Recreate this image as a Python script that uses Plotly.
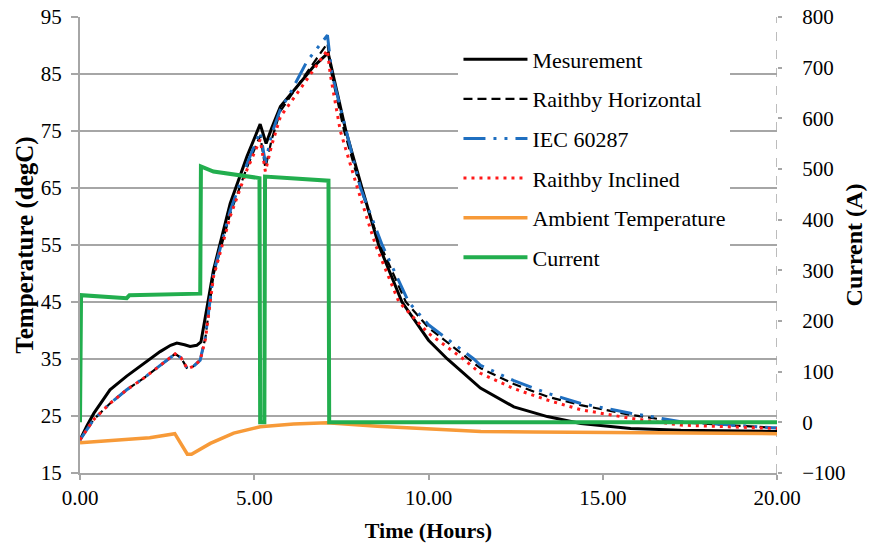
import plotly.graph_objects as go

# ---- Measured conductor temperature (degC) ----
meas_t = [0.0, 0.2, 0.4, 0.86, 1.34, 1.82, 2.3, 2.6, 2.78, 3.0, 3.16, 3.35, 3.47, 3.6, 3.83, 4.31,
          4.79, 5.17, 5.34, 5.5, 5.75, 6.23, 6.7, 7.12, 7.26, 7.63, 8.09, 8.57, 9.24, 10.0,
          10.54, 11.49, 12.45, 13.41, 14.37, 15.8, 17.24, 20.0]
meas_T = [20.8, 23.3, 25.5, 29.6, 32.0, 34.2, 36.3, 37.4, 37.8, 37.5, 37.2, 37.4, 38.0, 42.5, 50.6, 62.3,
          70.5, 76.2, 72.8, 75.5, 79.3, 82.8, 86.3, 88.7, 85.0, 75.0, 65.0, 55.0, 45.0, 38.3,
          35.0, 29.9, 26.6, 24.9, 23.7, 22.8, 22.5, 22.3]

# ---- Raithby horizontal model ----
rh_t = [0.0, 0.38, 0.86, 1.34, 1.82, 2.3, 2.73, 2.9, 3.08, 3.25, 3.45, 3.6, 3.83, 4.31, 4.79, 5.17,
        5.32, 5.5, 5.75, 6.23, 6.7, 7.1, 7.22, 7.58, 8.05, 8.62, 9.35, 10.0, 11.15, 11.49, 12.45,
        13.41, 14.37, 15.8, 17.24, 20.0]
rh_T = [20.8, 24.3, 27.2, 29.6, 31.6, 33.9, 35.9, 35.2, 33.3, 33.7, 34.8, 38.8, 49.8, 60.5, 68.6, 74.2,
        68.5, 73.5, 78.5, 82.8, 87.0, 90.4, 85.0, 75.0, 65.0, 55.0, 45.0, 40.5, 35.0, 33.4, 30.6,
        28.4, 26.9, 25.2, 23.9, 22.9]

# ---- IEC 60287 model ----
iec_t = [0.0, 0.38, 0.86, 1.34, 1.82, 2.3, 2.73, 2.9, 3.08, 3.25, 3.45, 3.6, 3.83, 4.31, 4.79, 5.17,
         5.32, 5.5, 5.75, 6.03, 6.51, 7.1, 7.23, 7.64, 8.05, 8.67, 9.43, 10.0, 11.3, 11.49, 12.45,
         13.41, 14.37, 15.8, 17.24, 20.0]
iec_T = [20.8, 24.3, 27.2, 29.6, 31.6, 33.9, 35.9, 35.2, 33.3, 33.7, 34.8, 39.0, 50.0, 61.0, 69.2, 74.9,
         69.4, 74.5, 78.8, 81.6, 87.2, 91.8, 85.0, 75.0, 65.0, 55.0, 45.0, 41.0, 35.0, 33.9, 31.2,
         29.0, 27.2, 25.5, 24.0, 22.9]

# ---- Raithby inclined model ----
ri_t = [0.0, 0.38, 0.86, 1.34, 1.82, 2.3, 2.73, 2.9, 3.08, 3.25, 3.45, 3.6, 3.83, 4.31, 4.79, 5.17,
        5.32, 5.5, 5.75, 6.23, 6.7, 7.1, 7.18, 7.47, 7.96, 8.48, 9.15, 10.0, 11.0, 11.49, 12.45,
        13.41, 14.37, 15.8, 17.24, 20.0]
ri_T = [20.8, 24.3, 27.2, 29.6, 31.6, 33.9, 35.9, 35.2, 33.3, 33.7, 34.8, 38.5, 49.4, 60.0, 68.2, 73.5,
        67.9, 72.5, 77.5, 81.6, 85.7, 89.2, 85.0, 75.0, 65.0, 55.0, 45.0, 39.5, 35.0, 32.5, 29.8,
        27.8, 26.1, 24.6, 23.4, 22.8]

# ---- Ambient temperature ----
amb_t = [0.0, 0.5, 1.34, 2.0, 2.72, 2.9, 3.08, 3.2, 3.4, 3.74, 4.41, 5.17, 6.13, 7.09, 8.53, 9.96,
         11.5, 13.0, 15.0, 17.0, 20.0]
amb_T = [20.3, 20.5, 20.8, 21.2, 21.9, 20.2, 18.3, 18.3, 19.0, 20.2, 22.0, 23.1, 23.6, 23.8, 23.2, 22.7,
         22.3, 22.2, 22.1, 22.0, 21.9]

# ---- Load current (A) ----
cur_t = [0.0, 0.03, 1.34, 1.42, 3.45, 3.47, 3.83, 4.31, 4.79, 5.15, 5.17, 5.29, 5.31, 6.23, 7.13,
         7.15, 20.0]
cur_I = [0.0, 251, 245, 251, 254, 505, 495, 490, 485, 482, 0, 0, 485, 480, 477, 0, 0]

GRAY = "#A6A6A6"
FONT = "Liberation Serif, Times New Roman, serif"

fig = go.Figure()
fig.add_trace(go.Scatter(x=meas_t, y=meas_T, name="Mesurement", mode="lines",
                         line=dict(color="#000000", width=3), legendgroup="g1"))
fig.add_trace(go.Scatter(x=rh_t, y=rh_T, name="Raithby Horizontal", mode="lines",
                         line=dict(color="#000000", width=2.2, dash="9px,5px"), legendgroup="g2"))
fig.add_trace(go.Scatter(x=iec_t, y=iec_T, name="IEC 60287", mode="lines",
                         line=dict(color="#1F6FC0", width=3, dash="22px,8px,3px,8px,3px,8px"),
                         legendgroup="g3"))
fig.add_trace(go.Scatter(x=ri_t, y=ri_T, name="Raithby Inclined", mode="lines",
                         line=dict(color="#FF1A1A", width=3, dash="3px,5px"), legendgroup="g4"))
fig.add_trace(go.Scatter(x=amb_t, y=amb_T, name="Ambient Temperature", mode="lines",
                         line=dict(color="#F79A38", width=3.5), legendgroup="g5"))
fig.add_trace(go.Scatter(x=cur_t, y=cur_I, name="Current", mode="lines", yaxis="y2",
                         line=dict(color="#22AE4E", width=4), legendgroup="g6"))

fig.update_layout(
    width=869, height=547, autosize=False,
    margin=dict(l=80, r=92, t=17, b=74),
    plot_bgcolor="white", paper_bgcolor="white",
    font=dict(family=FONT, size=21, color="#000000"),
    xaxis=dict(range=[0, 20], tickvals=[0, 5, 10, 15, 20], tickformat=".2f",
               showgrid=False, zeroline=False, showline=True, linecolor=GRAY, linewidth=2,
               ticks="outside", ticklen=5, tickcolor=GRAY, tickwidth=1.5,
               automargin=False,
               title=dict(text="<b>Time (Hours)</b>", font=dict(size=22), standoff=13)),
    yaxis=dict(range=[15, 95], tick0=15, dtick=10, showgrid=True, gridcolor=GRAY, gridwidth=1.5,
               zeroline=False, showline=True, linecolor=GRAY, linewidth=2,
               ticks="outside", ticklen=7, tickcolor=GRAY, tickwidth=1.5,
               ticklabelstandoff=5, automargin=False,
               title=dict(text="<b>Temperature (degC)</b>", font=dict(size=25), standoff=0)),
    yaxis2=dict(overlaying="y", side="right", range=[-100, 800], tick0=-100, dtick=100,
                showgrid=False, zeroline=False, showline=False,
                ticks="outside", ticklen=4, tickcolor=GRAY, tickwidth=1.5,
                ticklabelstandoff=16, automargin=False,
                title=dict(text="<b>Current (A)</b>", font=dict(size=24), standoff=0)),
    legend=dict(x=0.543, y=0.953, xanchor="left", yanchor="top", bgcolor="white",
                font=dict(family=FONT, size=22), itemwidth=64, tracegroupgap=8,
                borderwidth=0),
    shapes=[dict(type="line", xref="x", x0=20, x1=20, yref="paper", y0=0, y1=1,
                 line=dict(color=GRAY, width=1.5, dash="dash"), layer="below")],
)

fig.write_html("out.html")
